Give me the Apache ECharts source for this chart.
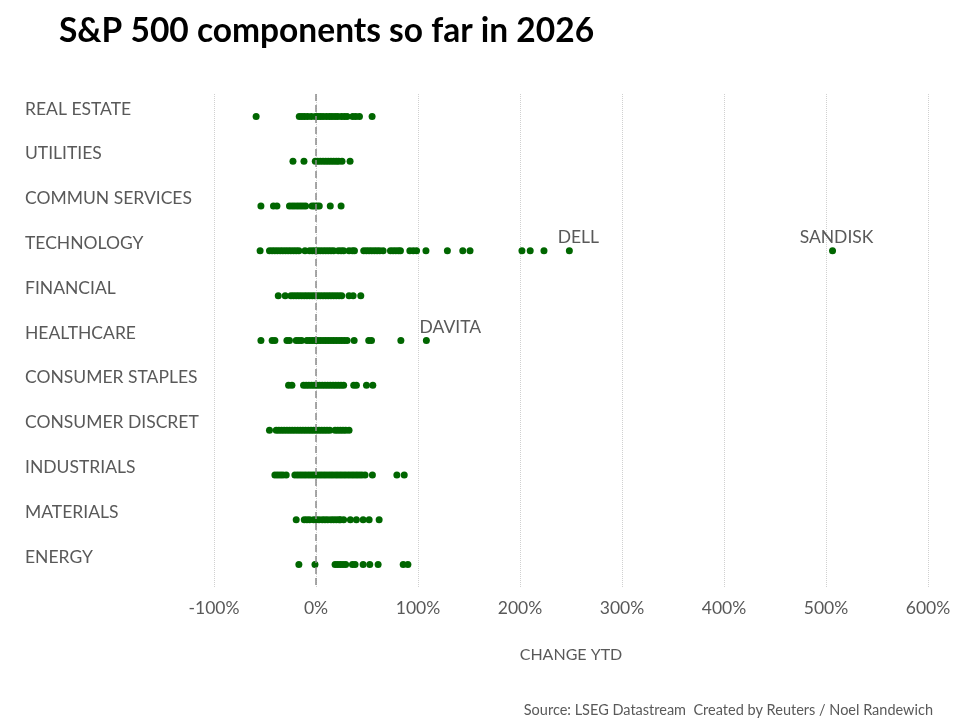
<!DOCTYPE html>
<html>
<head>
  <meta charset="UTF-8">
  <title>S&amp;P 500 components so far in 2026</title>
  <script src="https://cdn.jsdelivr.net/npm/echarts@6/dist/echarts.min.js"></script>
  <style type="text/css">
  html, body { margin: 0; padding: 0; background: #ffffff; }
  </style>
</head>
<body>
  <div id="chart" style="width:958px; height:718px;"></div>

  <script>
    // sectors, top to bottom
    var sectors = ['REAL ESTATE', 'UTILITIES', 'COMMUN SERVICES', 'TECHNOLOGY', 'FINANCIAL', 'HEALTHCARE',
      'CONSUMER STAPLES', 'CONSUMER DISCRET', 'INDUSTRIALS', 'MATERIALS', 'ENERGY']
    var xTicks = [-100, 0, 100, 200, 300, 400, 500, 600]

    // % change YTD per component
    var realEstate = [-58.7, -16.4, -13.8, -11.2, -8.2, -4.6, -0.7, 1.6, 4.2, 6.9, 10.1, 13.1, 15.7, 18.6, 21.3, 24.9, 27.8, 30.5, 36, 39, 42.6, 55]
    var utilities = [-22.6, -11.8, -0.7, 1.6, 4.2, 6.9, 9.5, 12.1, 14.7, 17.3, 19.9, 22.2, 25.5, 33.4]
    var communServices = [-54, -41.7, -38.3, -26, -23.3, -20.7, -18, -15.4, -12.8, -10.2, -3.9, -1.7, 1, 3.2, 14, 24.6]
    var technology = [-54.8, -45.6, -43, -40.4, -37.8, -35.1, -32.5, -29.9, -27.3, -24.7, -22, -19.4, -16.8, -10.8,
      -6.3, -3.6, -1, 1.6, 4.2, 6.9, 9.5, 12.1, 14.7, 17.3, 21.9, 24.6, 27.1, 32.4, 35.7, 37.7, 46.8, 49.4, 52, 54.6,
      57.3, 59.9, 62.5, 65.8, 73, 75.6, 78.2, 80.8, 82.8, 92, 95.4, 98.6, 107.8, 128.8, 143.9, 151, 201.9, 210, 223.5]
    var financial = [-37, -30.2, -24.6, -22, -19.4, -16.8, -14.2, -11.5, -8.9, -6.3, -3.6, -1, 1.6, 4.2, 6.9, 9.5,
      12.1, 14.7, 17.3, 19.9, 22.6, 25.2, 32.4, 36.4, 43.9]
    var healthcare = [-54, -43, -40.3, -28.5, -26, -19.4, -16.8, -14.2, -8.9, -6.3, -3.6, -1, 1.6, 4.2, 6.9, 9.5,
      12.1, 14.7, 17.3, 19.9, 22.6, 25.2, 27.8, 30.5, 37.4, 51.7, 54.4, 83.2]
    var consumerStaples = [-26.9, -23.6, -12.2, -9.6, -7, -4.3, -1.7, 0.9, 3.5, 6.2, 8.8, 11.4, 14, 16.7, 19.3,
      21.9, 24.5, 27.1, 37, 39.6, 49.5, 55.7]
    var consumerDiscret = [-45.6, -39, -36.4, -33.8, -31.2, -28.5, -25.9, -23.3, -20.7, -18, -15.4, -12.8, -10.2,
      -7.5, -4.9, -2.3, 0.3, 3, 5.6, 8.2, 10.8, 13.5, 18.7, 21.3, 23.9, 26.5, 29.1, 32.4]
    var industrials = [-40.3, -37.7, -35.1, -32.5, -29.2, -20.7, -18, -15.4, -12.8, -10.2, -7.5, -4.9, -2.3, 0.3, 3,
      5.6, 8.2, 10.8, 13.5, 16, 18.7, 21.3, 23.9, 26.5, 29.1, 31.8, 34.4, 37, 39.6, 42.2, 44.9, 48.1, 55.3, 79.3, 86.5]
    var materials = [-19.4, -11.5, -8.9, -6.3, -2.3, 0.3, 3, 6.2, 8.8, 11.5, 14.7, 17.3, 19.9, 22.6, 23.9, 27.1,
      33.7, 39.6, 46.2, 52.1, 61.9]
    var energy = [-16.8, -1, 18.7, 21.3, 23.9, 26.5, 29.1, 35.7, 38.3, 46.2, 52.7, 60.9, 85.5, 90.1]

    // named outliers
    var calloutNames = ['DELL', 'SANDISK', 'DAVITA']
    var calloutSectors = ['TECHNOLOGY', 'TECHNOLOGY', 'HEALTHCARE']
    var calloutValues = [248.4, 506.4, 108.2]

    // where each callout label sits relative to its dot (px)
    var calloutOffset = {DELL: [9, 4], SANDISK: [4, 4], DAVITA: [24, 4]}

    var bySector = [realEstate, utilities, communServices, technology, financial, healthcare,
      consumerStaples, consumerDiscret, industrials, materials, energy]

    var points = []
    bySector.forEach(function (vals, i) {
      vals.forEach(function (v) { points.push([v, sectors[i]]) })
    })
    var callouts = calloutNames.map(function (n, i) {
      return { name: n, value: [calloutValues[i], calloutSectors[i]], label: {offset: calloutOffset[n]} }
    })

    var FONT = 'Lato'
    var GREY = '#595959'
    var GREEN = '#006600'

    var chart = echarts.init(document.getElementById('chart'), null, {renderer: 'canvas'})
    chart.setOption({
      backgroundColor: '#ffffff',
      animation: false,
      title: [
        {
          text: 'S&P 500 components so far in 2026',
          left: 54, top: 9,
          textStyle: {fontFamily: FONT, fontWeight: 'bold', fontSize: 33.5, color: '#000000'}
        },
        {
          text: 'Source: LSEG Datastream  Created by Reuters / Noel Randewich',
          right: 20, top: 698,
          textStyle: {fontFamily: FONT, fontWeight: 'normal', fontSize: 14.5, color: GREY}
        }
      ],
      grid: {left: 214, right: 30, top: 94, bottom: 131, containLabel: false},
      xAxis: {
        type: 'value',
        min: -100, max: 600, interval: 100,
        name: 'CHANGE YTD',
        nameLocation: 'middle',
        nameGap: 60,
        nameTextStyle: {fontFamily: FONT, fontSize: 16, color: GREY},
        axisLine: {show: false},
        axisTick: {show: false},
        axisLabel: {
          margin: 12,
          fontFamily: FONT, fontSize: 17.5, color: GREY,
          formatter: function (v) { return xTicks.indexOf(v) >= 0 ? v + '%' : '' }
        },
        splitLine: {show: true, lineStyle: {color: '#d0d0d0', type: 'dotted', width: 1}}
      },
      yAxis: {
        type: 'category',
        data: sectors,
        inverse: true,
        axisLine: {show: false},
        axisTick: {show: false},
        splitLine: {show: false},
        axisLabel: {
          align: 'left',
          verticalAlign: 'bottom',
          lineHeight: 15,
          margin: 189,
          fontFamily: FONT, fontSize: 17.5, color: GREY
        }
      },
      series: [
        {
          type: 'scatter',
          data: points,
          symbol: 'circle',
          symbolSize: 7,
          itemStyle: {color: GREEN, opacity: 1},
          markLine: {
            silent: true,
            symbol: 'none',
            label: {show: false},
            lineStyle: {color: '#8c8c8c', type: [7, 4], width: 1.5},
            data: [{xAxis: 0}]
          },
          z: 3
        },
        {
          type: 'scatter',
          data: callouts,
          symbol: 'circle',
          symbolSize: 7,
          itemStyle: {color: GREEN, opacity: 1},
          label: {
            show: true,
            position: 'top',
            formatter: '{b}',
            fontFamily: FONT, fontSize: 17.5, color: GREY
          },
          z: 4
        }
      ]
    })
  </script>
</body>
</html>
